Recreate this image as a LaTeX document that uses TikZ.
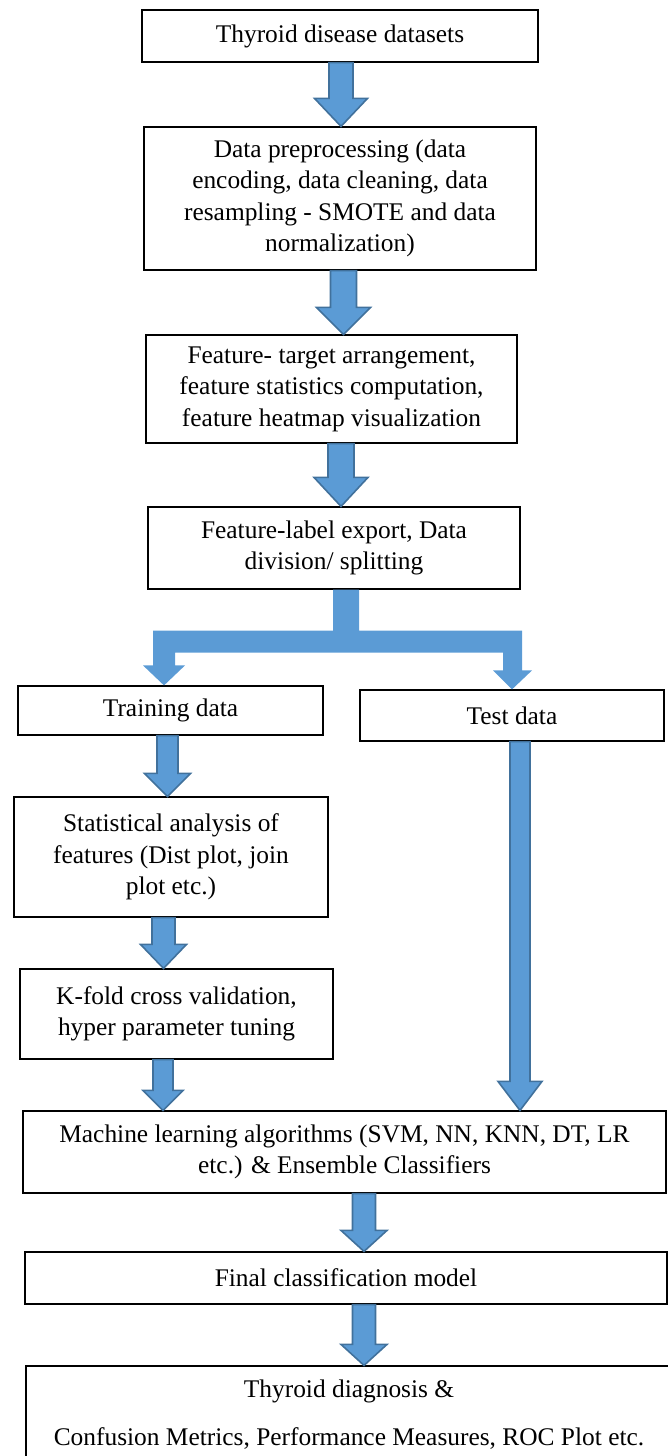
\documentclass[tikz,border=0pt]{standalone}
\usepackage{fontspec}
\setmainfont{Liberation Serif}
\usetikzlibrary{calc}

\definecolor{arrowblue}{HTML}{5B9BD5}
\definecolor{arrowedge}{HTML}{41719C}

\tikzset{
    block/.style={draw, line width=0.6pt, align=center, inner sep=0pt,
        font=\fontsize{12.7}{15.75}\selectfont},
    fatarrow/.style={fill=arrowblue, draw=arrowedge, line width=0.8pt},
}

% block arrow: from node, to node, x, shaft half width, head half width, head length
\newcommand{\blockarrow}[6]{%
    \filldraw[fatarrow] let \p1=(#1.south), \p2=(#2.north) in
        ({#3pt-#4pt},\y1) -- ({#3pt-#4pt},{\y2+#6pt}) -- ({#3pt-#5pt},{\y2+#6pt})
        -- (#3pt,\y2) -- ({#3pt+#5pt},{\y2+#6pt}) -- ({#3pt+#4pt},{\y2+#6pt})
        -- ({#3pt+#4pt},\y1) -- cycle;
}

\begin{document}
\begin{tikzpicture}[x=1pt,y=-1pt]
    \useasboundingbox (0,0) rectangle (334,728);

    \node[block, minimum width=198pt, minimum height=26pt] (data) at (170,18)
        {Thyroid disease datasets};
    \node[block, minimum width=196pt, minimum height=71.5pt] (prep) at (170,99.25)
        {Data preprocessing (data\\encoding, data cleaning, data\\resampling - SMOTE and data\\normalization)};
    \node[block, minimum width=185.5pt, minimum height=54pt] (feat) at (165.75,194.5)
        {Feature- target arrangement,\\feature statistics computation,\\feature heatmap visualization};
    \node[block, minimum width=186pt, minimum height=41pt] (split) at (167,274)
        {Feature-label export, Data\\division/ splitting};

    \node[block, minimum width=152.5pt, minimum height=24.5pt] (train) at (85.25,355.25)
        {Training data};
    \node[block, minimum width=152pt, minimum height=25.5pt] (test) at (256,357.75)
        {Test data};
    \node[block, minimum width=157pt, minimum height=60pt] (stat) at (85.5,428.5)
        {Statistical analysis of\\features (Dist plot, join\\plot etc.)};
    \node[block, minimum width=156.5pt, minimum height=45pt] (kfold) at (88.25,507)
        {K-fold cross validation,\\hyper parameter tuning};

    \node[block, minimum width=321.5pt, minimum height=41pt] (ml) at (172.25,576)
        {Machine learning algorithms (SVM, NN, KNN, DT, LR\\etc.) \& Ensemble Classifiers};
    \node[block, minimum width=321pt, minimum height=26pt] (final) at (173,639)
        {Final classification model};
    \node[block, minimum width=323pt, minimum height=49pt] (diag) at (174.5,707.5)
        {Thyroid diagnosis \&\\[8.25pt]Confusion Metrics, Performance Measures, ROC Plot etc.};

    % main column
    \blockarrow{data}{prep}{170.5}{6}{13.25}{14}
    \blockarrow{prep}{feat}{171.75}{6.5}{13.5}{13.5}
    \blockarrow{feat}{split}{170.5}{6.5}{13.5}{14.5}

    % split into training and test data
    \fill[arrowblue] let \p1=(split.south), \p2=(train.north), \p3=(test.north) in
        (166.5pt,\y1) -- (166.5pt,{\y1-20.5pt}) -- (76.5pt,{\y1-20.5pt})
        -- (76.5pt,{\y2+10pt}) -- (71.5pt,{\y2+10pt}) -- (82pt,\y2)
        -- (92.5pt,{\y2+10pt}) -- (87.5pt,{\y2+10pt}) -- (87.5pt,{\y1-31.5pt})
        -- (251.5pt,{\y1-31.5pt}) -- (251.5pt,{\y3+9.5pt}) -- (246.5pt,{\y3+9.5pt})
        -- (256pt,\y3) -- (266pt,{\y3+9.5pt}) -- (261pt,{\y3+9.5pt})
        -- (261pt,{\y1-20.5pt}) -- (179.5pt,{\y1-20.5pt}) -- (179.5pt,\y1) -- cycle;

    % training branch
    \blockarrow{train}{stat}{83.75}{5.25}{11.5}{11.5}
    \blockarrow{stat}{kfold}{81.75}{5.75}{11.5}{12}
    \blockarrow{kfold}{ml}{81.5}{5}{10}{10}

    % test branch
    \blockarrow{test}{ml}{260}{5}{11}{14.5}

    \blockarrow{ml}{final}{182}{5.75}{11.5}{10.5}
    \blockarrow{final}{diag}{182}{5.75}{11.5}{10.5}
\end{tikzpicture}
\end{document}
